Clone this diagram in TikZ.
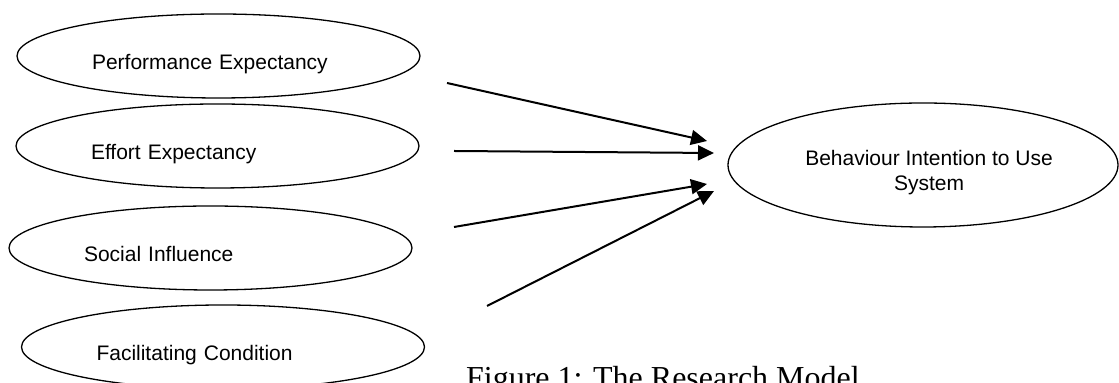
\documentclass[tikz,border=0pt]{standalone}
\usepackage{fontspec}
\setmainfont{Liberation Serif}
\setsansfont{Liberation Sans}
\usetikzlibrary{arrows.meta, positioning, shapes.geometric}

\begin{document}
\begin{tikzpicture}[
		x=0.5pt, y=-0.5pt,
		factor/.style={draw, ellipse, line width=0.65pt, inner sep=0pt,
			minimum width=201.5pt, minimum height=42pt,
			text width=126.5pt, align=left,
			text height=15.5pt, text depth=2.2pt,
			font=\sffamily\fontsize{10.5}{12.5}\selectfont},
		outcome/.style={draw, ellipse, line width=0.65pt, inner sep=0pt,
			minimum width=195pt, minimum height=62pt, align=center,
			text height=27.5pt,
			font=\sffamily\fontsize{10.5}{12.5}\selectfont},
		link/.style={line width=1pt, -{Triangle[length=8pt, width=7.5pt]}},
	]
	\clip (0,0) rectangle (1119,383);

	% -- constructs --

	\node [factor] (pe) at (218.5, 56) {Performance Expectancy};
	\node [factor] (ee) at (217.5, 146) {Effort Expectancy};
	\node [factor] (si) at (210.5, 248) {Social Influence};
	\node [factor] (fc) at (223, 347) {Facilitating Condition};

	\node [outcome] (bi) at (923, 165) {
		\hspace*{6pt}Behaviour Intention to Use \\ \hspace*{6pt}System
	};

	% -- arrow ends (they float between the ellipses) --

	\coordinate (pe-out) at (447, 83);
	\coordinate (ee-out) at (454, 151);
	\coordinate (si-out) at (454, 227);
	\coordinate (fc-out) at (487, 306);

	\coordinate (bi-in1) at (707, 141);
	\coordinate (bi-in2) at (714, 153);
	\coordinate (bi-in3) at (707, 184);
	\coordinate (bi-in4) at (714, 191);

	% -- paths --

	\draw[link] (pe-out) -- (bi-in1);
	\draw[link] (ee-out) -- (bi-in2);
	\draw[link] (si-out) -- (bi-in3);
	\draw[link] (fc-out) -- (bi-in4);

	\node [anchor=base west, font=\fontsize{16}{19}\selectfont] (caption) at (459, 389)
	{Figure 1: The Research Model};
\end{tikzpicture}
\end{document}
